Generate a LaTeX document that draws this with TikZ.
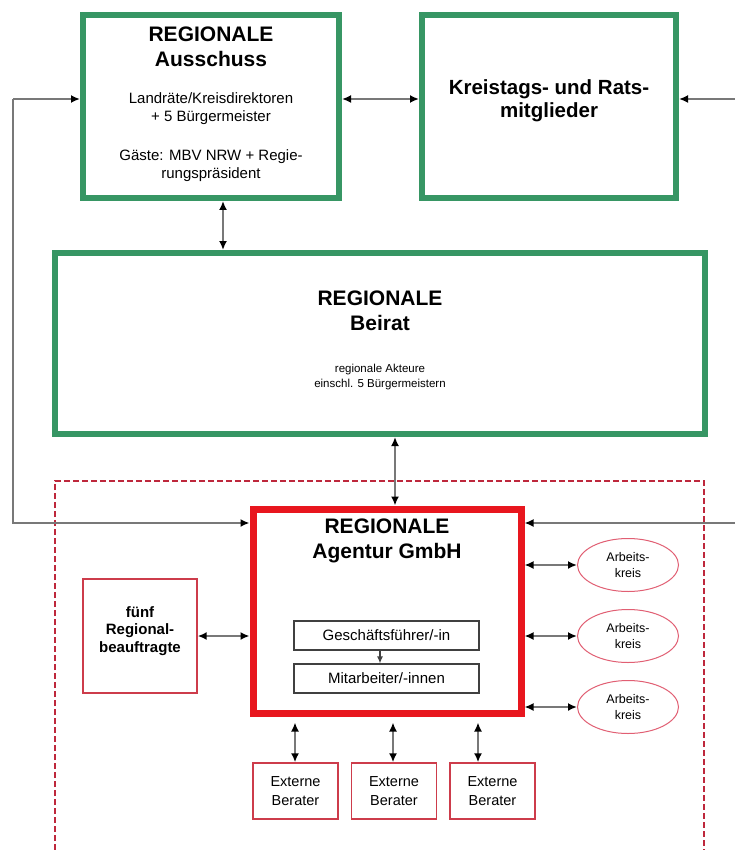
\documentclass[tikz,border=0pt]{standalone}
\usepackage{fontspec}
\setmainfont{Liberation Sans}
\usetikzlibrary{arrows.meta,shapes.geometric}
\definecolor{grn}{RGB}{55,150,100}
\definecolor{agred}{RGB}{232,22,30}
\definecolor{thinred}{RGB}{205,60,75}
\definecolor{dashred}{RGB}{190,40,60}
\definecolor{ellred}{RGB}{225,95,115}
\definecolor{conncol}{RGB}{120,120,120}
\begin{document}
\begin{tikzpicture}[x=1pt,y=-1pt,
  gbox/.style={draw=grn, line width=6pt, inner sep=0pt},
  rbox/.style={draw=agred, line width=7pt, inner sep=0pt},
  tbox/.style={draw=thinred, line width=1.4pt, inner sep=0pt, align=center},
  kbox/.style={draw=black!75, line width=1.2pt, inner sep=0pt, font=\fontsize{15}{18}\selectfont},
  akell/.style={draw=ellred, ellipse, line width=1pt, minimum width=101pt, minimum height=53pt, inner sep=0pt, align=center, font=\fontsize{12.5}{15.5}\selectfont},
  tip/.tip={Latex[length=9pt,width=8pt,color=black]},
  oneway/.style={draw=conncol, line width=2pt, -tip},
  twoway/.style={draw=conncol, line width=2pt, tip-tip},
  ttl/.style={align=center, font=\fontsize{21}{25}\selectfont\bfseries, inner sep=0pt},
  smallA/.style={align=center, font=\fontsize{15}{18}\selectfont, inner sep=0pt},
  smallB/.style={align=center, font=\fontsize{11.5}{15}\selectfont, inner sep=0pt}
]
\useasboundingbox[fill=white] (0,0) rectangle (735,850);

% dashed red frame
\draw[dashred, line width=1.2pt, dash pattern=on 6pt off 3pt] (55,850) -- (55,481) -- (704,481) -- (704,850);

% boxes
\node[gbox, minimum width=256pt, minimum height=183pt] (aus) at (211,106.5) {};
\node[gbox, minimum width=254pt, minimum height=183pt] (kr) at (549,106.5) {};
\node[gbox, minimum width=650pt, minimum height=181pt] (bei) at (380,343.5) {};
\node[rbox, minimum width=268pt, minimum height=204pt] (ag) at (387,611) {};
\node[tbox, minimum width=114pt, minimum height=114pt] (rb) at (140,636) {};
\node[align=center, inner sep=0pt, font=\fontsize{15}{17.5}\selectfont\bfseries] (rbt) at (140,631) {fünf\\Regional-\\beauftragte};
\node[kbox, minimum width=185pt, minimum height=29pt] (gf) at (386.5,635.5) {Geschäftsführer/-in};
\node[kbox, minimum width=185pt, minimum height=29pt] (ma) at (386.5,678.5) {Mitarbeiter/-innen};
\node[akell] (ak1) at (628,565) {Arbeits-\\kreis};
\node[akell] (ak2) at (628,636) {Arbeits-\\kreis};
\node[akell] (ak3) at (628,707) {Arbeits-\\kreis};
\node[tbox, minimum width=85pt, minimum height=56pt, font=\fontsize{14.5}{19}\selectfont] (eb1) at (295.5,791) {Externe\\Berater};
\node[tbox, minimum width=85pt, minimum height=56pt, font=\fontsize{14.5}{19}\selectfont] (eb2) at (394,791) {Externe\\Berater};
\node[tbox, minimum width=85pt, minimum height=56pt, font=\fontsize{14.5}{19}\selectfont] (eb3) at (492.5,791) {Externe\\Berater};

% texts
\node[ttl] (taus) at (211,46.5) {REGIONALE\\Ausschuss};
\node[smallA] (saus1) at (211,109) {Landräte/Kreisdirektoren\\+ 5 Bürgermeister};
\node[smallA] (saus2) at (211,166) {Gäste: MBV NRW + Regie-\\rungspräsident};
\node[ttl, font=\fontsize{20.5}{23}\selectfont\bfseries] (tkr) at (549,101) {Kreistags- und Rats-\\mitglieder};
\node[ttl] (tbei) at (380,311) {REGIONALE\\Beirat};
\node[smallB] (sbei) at (380,377) {regionale Akteure\\einschl. 5 Bürgermeistern};
\node[ttl] (tag) at (387,541) {REGIONALE\\Agentur GmbH};

% helper coordinates
\coordinate (L1) at (13,99);
\coordinate (L2) at (13,523);
\coordinate (R1) at (735,99);
\coordinate (R2) at (735,523);
\coordinate (ya) at (380,99);
\coordinate (xa) at (223,230);
\coordinate (xb) at (395,470);
\coordinate (xg) at (380,655);
\coordinate (xe1) at (295,740);
\coordinate (xe2) at (393,740);
\coordinate (xe3) at (478,740);

% connectors
\draw[oneway] (L1) -- (L1 -| aus.west);
\draw[oneway] (L1) -- (L2) -- (L2 -| ag.west);
\draw[oneway] (R1) -- (R1 -| kr.east);
\draw[oneway] (R2) -- (R2 -| ag.east);
\draw[twoway] (ya -| aus.east) -- (ya -| kr.west);
\draw[twoway] (xa |- aus.south) -- (xa |- bei.north);
\draw[twoway] (xb |- bei.south) -- (xb |- ag.north);
\draw[twoway] (rb.east) -- (rb.east -| ag.west);
\draw[draw=black!75, line width=1.2pt, -{Latex[length=7pt,width=6pt]}] (xg |- gf.south) -- (xg |- ma.north);
\draw[twoway] (ak1.west -| ag.east) -- (ak1.west);
\draw[twoway] (ak2.west -| ag.east) -- (ak2.west);
\draw[twoway] (ak3.west -| ag.east) -- (ak3.west);
\draw[twoway, shorten <=6pt] (xe1 |- ag.south) -- (xe1 |- eb1.north);
\draw[twoway, shorten <=6pt] (xe2 |- ag.south) -- (xe2 |- eb2.north);
\draw[twoway, shorten <=6pt] (xe3 |- ag.south) -- (xe3 |- eb3.north);
\end{tikzpicture}
\end{document}
